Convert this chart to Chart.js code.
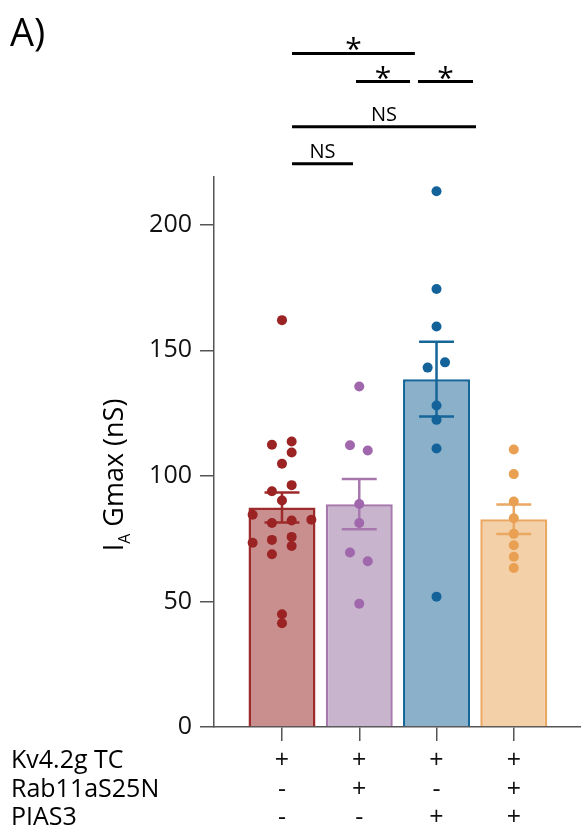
<!DOCTYPE html>
<html>
<head>
<meta charset="utf-8">
<script src="https://cdn.jsdelivr.net/npm/chart.js@4.4.1/dist/chart.umd.min.js"></script>
<style>
  html, body { margin: 0; padding: 0; background: #fff; overflow: hidden; }
  #wrap { width: 581px; height: 827px; position: relative; }
  #gmaxChart { display: block; }
</style>
</head>
<body>
<div id="wrap"><canvas id="gmaxChart"></canvas></div>
<script>
// Groupes (position sur l'axe x)
const groupPos = [1, 2, 3, 4];
const barMeans = [87.4, 88.7, 138.5, 82.7];
const barSems = [6.0, 10.0, 14.9, 5.9];

// Tableau des conditions sous l'axe
const rowNames = ['Kv4.2g TC', 'Rab11aS25N', 'PIAS3'];
const kvRow = ['+', '+', '+', '+'];
const rabRow = ['-', '+', '-', '+'];
const piasRow = ['-', '-', '+', '+'];

// Points individuels : [décalage x, valeur]
const redPts = [[0, 162], [-0.13, 112.4], [0.125, 113.7], [0.125, 109.3], [0, 104.8], [0.125, 96.3],
  [-0.13, 93.9], [0, 90.2], [-0.38, 84.5], [0.38, 82.5], [-0.13, 81.2], [0.125, 82.2], [-0.38, 73.4],
  [-0.13, 74.5], [0.125, 75.7], [0.125, 72.1], [-0.13, 68.8], [0, 44.9], [0, 41.3]];
const purplePts = [[0, 135.6], [-0.12, 112.2], [0.11, 110.1], [0, 88.8], [0, 81.2], [-0.12, 69.5], [0.11, 66], [0, 49.1]];
const bluePts = [[0, 213.3], [0, 174.4], [0, 159.5], [-0.115, 143.1], [0.11, 145.2], [0, 128], [0, 122.3], [0, 110.9], [0, 51.9]];
const orangePts = [[0, 110.5], [0, 100.7], [0, 89.8], [0, 83.1], [0, 76.9], [0, 72.4], [0, 67.8], [0, 63.3]];

// Barres de significativité (en unités des axes)
const sigFrom = [1.13, 1.958, 2.76, 1.13, 1.13];
const sigTo = [2.72, 2.657, 3.472, 3.511, 1.919];
const sigY = [268.2, 257, 257, 239, 224.3];
const sigLabel = ['*', '*', '*', 'NS', 'NS'];

const yTicks = [0, 50, 100, 150, 200];

const fillColors = ['#c98f8f', '#c8b4cc', '#8ab1c9', '#f3d0a8'];
const edgeColors = ['#9e2b2b', '#a778ad', '#17669a', '#eaa863'];
const dotColors = ['#9b2323', '#a067ad', '#13639a', '#e9a052'];

const FONT = '"Open Sans", "DejaVu Sans", sans-serif';
const TICK_LEN = 14;
const TICK_PAD = 6;
const LINE_H = 28.5;

function toPoints(list, g) {
    return list.map(p => ({ x: groupPos[g] + p[0], y: p[1] }));
}

// Plugin : barres d'erreur, annotations, titres
const extrasPlugin = {
    id: 'extras',
    afterDatasetDraw(chart, args) {
        if (args.index !== 0) return;
        const { ctx, scales: { x, y } } = chart;
        ctx.save();
        ctx.lineWidth = 2.5;
        groupPos.forEach((g, i) => {
            const cx = x.getPixelForValue(g);
            const top = y.getPixelForValue(barMeans[i] + barSems[i]);
            const bot = y.getPixelForValue(barMeans[i] - barSems[i]);
            const half = x.getPixelForValue(g + 0.226) - cx;
            ctx.strokeStyle = edgeColors[i];
            ctx.beginPath();
            ctx.moveTo(cx, top); ctx.lineTo(cx, bot);
            ctx.moveTo(cx - half, top); ctx.lineTo(cx + half, top);
            ctx.moveTo(cx - half, bot); ctx.lineTo(cx + half, bot);
            ctx.stroke();
        });
        ctx.restore();
    },
    afterDraw(chart) {
        const { ctx, scales: { x, y } } = chart;
        ctx.save();
        // barres de significativité
        ctx.strokeStyle = '#000';
        ctx.fillStyle = '#000';
        ctx.lineWidth = 3;
        ctx.textAlign = 'center';
        ctx.textBaseline = 'alphabetic';
        sigFrom.forEach((f, i) => {
            const x1 = x.getPixelForValue(f);
            const x2 = x.getPixelForValue(sigTo[i]);
            const py = y.getPixelForValue(sigY[i]);
            ctx.beginPath();
            ctx.moveTo(x1, py); ctx.lineTo(x2, py);
            ctx.stroke();
            if (sigLabel[i] === '*') {
                ctx.font = '30px ' + FONT;
                ctx.fillText('*', (x1 + x2) / 2, py + 6);
            } else {
                ctx.font = '20px ' + FONT;
                ctx.fillText(sigLabel[i], (x1 + x2) / 2, py - 6);
            }
        });

        // "A)"
        ctx.textAlign = 'left';
        ctx.font = '38px ' + FONT;
        ctx.fillText('A)', 10, 46);

        // noms des lignes du tableau
        ctx.font = '25px ' + FONT;
        ctx.textBaseline = 'middle';
        rowNames.forEach((name, i) => {
            ctx.fillText(name, 11, x.top + TICK_LEN + TICK_PAD + (i + 0.5) * LINE_H);
        });

        // titre de l'axe y avec indice
        ctx.translate(123, 475);
        ctx.rotate(-Math.PI / 2);
        ctx.textBaseline = 'alphabetic';
        const big = '27px ' + FONT, small = '16px ' + FONT;
        ctx.font = big;
        const wI = ctx.measureText('I').width;
        const wRest = ctx.measureText(' Gmax (nS)').width;
        ctx.font = small;
        const wA = ctx.measureText('A').width;
        let cx = -(wI + wA + wRest) / 2;
        ctx.font = big;
        ctx.fillText('I', cx, 0); cx += wI;
        ctx.font = small;
        ctx.fillText('A', cx, 7); cx += wA;
        ctx.font = big;
        ctx.fillText(' Gmax (nS)', cx, 0);
        ctx.restore();
    }
};

document.addEventListener('DOMContentLoaded', () => {
    const scatterSets = [redPts, purplePts, bluePts, orangePts].map((pts, g) => ({
        type: 'scatter',
        data: toPoints(pts, g),
        backgroundColor: dotColors[g],
        borderWidth: 0,
        pointRadius: 5,
        order: 0
    }));

    const ctx = document.getElementById('gmaxChart').getContext('2d');
    new Chart(ctx, {
        type: 'bar',
        data: {
            datasets: [{
                data: groupPos.map((g, i) => ({ x: g, y: barMeans[i] })),
                backgroundColor: fillColors,
                borderColor: edgeColors,
                borderWidth: 2.5,
                categoryPercentage: 1,
                barPercentage: 0.867,
                order: 2
            }, ...scatterSets]
        },
        options: {
            responsive: true,
            maintainAspectRatio: false,
            animation: false,
            layout: { autoPadding: false, padding: { top: 177, right: 0, left: 0, bottom: 0 } },
            plugins: { legend: { display: false }, tooltip: { enabled: false } },
            scales: {
                x: {
                    type: 'linear',
                    offset: false,
                    min: 0.12,
                    max: 4.87,
                    afterFit: s => { s.height = 100; },
                    afterBuildTicks: s => { s.ticks = groupPos.map(v => ({ value: v })); },
                    grid: { display: true, offset: false, drawOnChartArea: false, drawTicks: true, tickLength: TICK_LEN, color: '#555', lineWidth: 1.5 },
                    border: { display: true, color: '#555', width: 1.5 },
                    ticks: {
                        autoSkip: false,
                        maxRotation: 0,
                        padding: TICK_PAD,
                        color: '#111',
                        font: { family: FONT, size: 25, lineHeight: LINE_H / 25 },
                        callback: (v, i) => [kvRow[i], rabRow[i], piasRow[i]]
                    }
                },
                y: {
                    min: 0,
                    max: 219,
                    afterFit: s => { s.width = 214; },
                    afterBuildTicks: s => { s.ticks = yTicks.map(v => ({ value: v })); },
                    grid: { display: true, drawOnChartArea: false, drawTicks: true, tickLength: TICK_LEN, color: '#555', lineWidth: 1.5 },
                    border: { display: true, color: '#555', width: 1.5 },
                    ticks: {
                        padding: 8,
                        color: '#111',
                        font: { family: FONT, size: 25 }
                    }
                }
            }
        },
        plugins: [extrasPlugin]
    });
});
</script>
</body>
</html>
